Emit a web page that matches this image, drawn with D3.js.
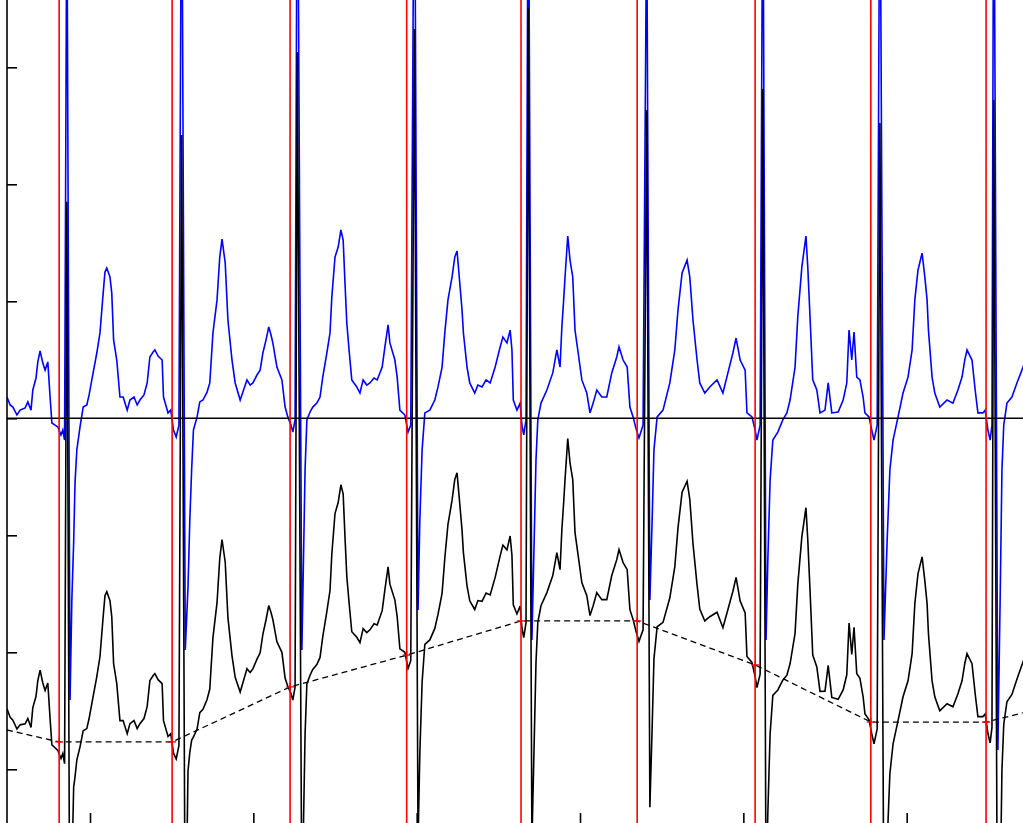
<!DOCTYPE html>
<html>
<head>
<meta charset="utf-8">
<script src="https://cdn.jsdelivr.net/npm/d3@7"></script>
<style>
html,body{margin:0;padding:0;background:#fff;overflow:hidden}
svg{display:block}
</style>
</head>
<body>
<svg id="chart" width="1023" height="823"></svg>
<script>
// ECG strip, 360 Hz samples, mV
let sampleIdx=[
177,184,190,199,206,217,223,230,234,241,
245,250,256,261,267,272,276,283,289,296,
300,304,309,316,320,324,327,331,338,345,
353,358,364,375,382,389,393,397,404,408,
412,419,426,433,442,448,457,464,470,479,
486,492,499,503,510,519,522,532,538,544,
550,556,562,570,576,580,584,588,596,602,
609,618,624,631,640,646,651,658,664,673,
680,691,697,706,713,719,728,735,741,748,
754,759,763,772,783,790,796,803,807,812,
817,827,834,838,845,851,860,867,873,882,
889,893,900,907,913,918,922,926,931,937,
948,955,962,970,977,986,993,1004,1010,1017,
1021,1032,1037,1043,1054,1061,1067,1075,1083,1087,
1092,1098,1109,1120,1127,1136,1142,1149,1158,1164,
1169,1175,1180,1183,1191,1197,1208,1215,1224,1233,
1242,1253,1264,1270,1279,1286,1290,1293,1301,1308,
1312,1316,1321,1326,1334,1339,1343,1347,1354,1367,
1380,1389,1396,1400,1404,1407,1413,1418,1424,1429,
1436,1444,1455,1462,1469,1477,1488,1499,1510,1521,
1526,1535,1544,1550,1557,1563,1570,1579,1587,1594,
1599,1603,1610,1623,1638,1649,1656,1665,1676,1682,
1689,1698,1704,1715,1726,1742,1755,1766,1777,1784,
1793,1804,1808,1819,1826,1830,1837,1843,1850,1854,
1859,1865,1876,1887,1896,1903,1914,1920,1929,1938,
1942,1947,1953,1962,1969,1980,1987,1995,2009,2020,
2028,2033,2039,2044,2050,2057,2064,2068,2077,2083,
2088,2095,2101,2110,2117,2123,2130,2141,2152,2163,
2172,2178,2185,2194,2200,2205,2208,2216,2222,2233,
2249,2262,2273,2282,2288,2293,2304,2311,2317,2328,
2333,2339,2344,2348,2352,2361,2366,2370,2374,2381,
2392,2403,2414,2421]

// baseline-corrected signal (blue)
let ecgFiltered=[
0.091,0.057,0.048,0.014,0.035,0.044,0.070,0.035,0.121,0.172,
0.241,0.288,0.236,0.206,0.241,0.091,-0.020,-0.029,-0.037,-0.071,
-0.050,-0.093,2.308,-1.204,-0.776,-0.529,-0.276,-0.135,-0.037,0.048,
0.057,0.100,0.164,0.279,0.365,0.535,0.625,0.642,0.604,0.535,
0.335,0.249,0.091,0.091,0.035,0.078,0.091,0.057,0.078,0.100,
0.151,0.262,0.283,0.292,0.266,0.249,0.091,0.023,0.035,-0.050,
-0.080,-0.029,2.575,-0.990,-0.721,-0.435,-0.221,-0.050,0.006,0.070,
0.078,0.112,0.151,0.365,0.506,0.689,0.766,0.664,0.420,0.249,
0.151,0.078,0.112,0.164,0.142,0.151,0.185,0.206,0.279,0.335,
0.390,0.356,0.322,0.219,0.164,0.048,0.006,-0.029,-0.059,-0.007,
2.704,-0.990,-0.221,-0.007,0.027,0.048,0.065,0.091,0.176,0.279,
0.365,0.518,0.689,0.732,0.805,0.762,0.578,0.407,0.292,0.164,
0.134,0.108,0.164,0.142,0.151,0.172,0.164,0.219,0.305,0.399,
0.322,0.249,0.176,0.035,0.014,-0.059,-0.029,2.666,-0.819,-0.435,
-0.135,0.023,0.035,0.078,0.134,0.219,0.365,0.506,0.604,0.689,
0.715,0.578,0.463,0.365,0.219,0.151,0.108,0.142,0.134,0.164,
0.151,0.219,0.305,0.347,0.322,0.377,0.292,0.078,0.035,0.065,
-0.029,-0.071,-0.007,2.620,-0.947,-0.520,-0.178,-0.007,0.065,0.121,
0.194,0.292,0.219,0.390,0.506,0.604,0.779,0.676,0.604,0.377,
0.279,0.164,0.108,0.023,0.065,0.121,0.091,0.091,0.194,0.262,
0.305,0.249,0.219,0.048,0.006,-0.041,-0.084,-0.029,2.199,-0.776,
-0.435,-0.135,0.006,0.035,0.151,0.292,0.463,0.621,0.676,0.604,
0.420,0.249,0.151,0.108,0.134,0.164,0.108,0.194,0.279,0.343,
0.249,0.206,0.023,0.006,-0.050,-0.093,-0.029,2.477,-0.947,-0.606,
-0.264,-0.093,-0.059,-0.007,0.023,0.078,0.219,0.433,0.647,0.779,
0.647,0.433,0.164,0.121,0.023,0.035,0.151,0.023,0.027,0.078,
0.151,0.377,0.249,0.369,0.176,0.164,0.091,0.023,0.006,-0.050,
-0.093,-0.029,2.560,-0.947,-0.520,-0.221,-0.093,0.006,0.108,0.176,
0.292,0.506,0.634,0.706,0.604,0.506,0.377,0.176,0.108,0.048,
0.078,0.065,0.121,0.176,0.249,0.292,0.249,0.121,0.023,0.023,
0.035,-0.050,-0.093,-0.029,2.650,-1.418,-0.776,-0.221,-0.029,0.065,
0.091,0.151,0.206,0.241]

// raw signal with baseline wander (black)
let ecgRaw=[
-1.241,-1.278,-1.290,-1.328,-1.310,-1.306,-1.283,-1.321,-1.236,-1.188,
-1.121,-1.076,-1.131,-1.163,-1.131,-1.283,-1.396,-1.408,-1.419,-1.454,
-1.433,-1.476,0.925,-2.587,-1.930,-1.576,-1.532,-1.460,-1.404,-1.335,
-1.326,-1.283,-1.219,-1.104,-1.018,-0.848,-0.758,-0.741,-0.779,-0.848,
-1.048,-1.134,-1.292,-1.292,-1.348,-1.305,-1.292,-1.326,-1.305,-1.283,
-1.232,-1.121,-1.100,-1.091,-1.117,-1.134,-1.292,-1.360,-1.348,-1.431,
-1.456,-1.399,1.211,-2.347,-1.507,-1.428,-1.376,-1.362,-1.328,-1.258,
-1.244,-1.202,-1.157,-0.937,-0.788,-0.599,-0.518,-0.614,-0.852,-1.015,
-1.107,-1.170,-1.130,-1.070,-1.086,-1.071,-1.029,-1.002,-0.923,-0.861,
-0.800,-0.830,-0.860,-0.955,-1.000,-1.110,-1.146,-1.176,-1.204,-1.149,
1.565,-2.124,-1.352,-1.135,-1.098,-1.073,-1.052,-1.022,-0.934,-0.826,
-0.736,-0.581,-0.407,-0.360,-0.284,-0.324,-0.506,-0.675,-0.787,-0.912,
-0.936,-0.959,-0.899,-0.916,-0.904,-0.878,-0.883,-0.822,-0.732,-0.635,
-0.709,-0.777,-0.847,-0.985,-1.000,-1.069,-1.036,1.664,-1.817,-1.430,
-1.127,-0.966,-0.947,-0.898,-0.838,-0.748,-0.598,-0.453,-0.350,-0.261,
-0.233,-0.366,-0.478,-0.574,-0.716,-0.780,-0.817,-0.779,-0.782,-0.747,
-0.755,-0.680,-0.588,-0.542,-0.562,-0.503,-0.585,-0.797,-0.836,-0.802,
-0.895,-0.937,-0.873,1.754,-1.813,-1.386,-1.044,-0.873,-0.801,-0.745,
-0.672,-0.574,-0.647,-0.476,-0.360,-0.262,-0.087,-0.190,-0.262,-0.489,
-0.587,-0.702,-0.758,-0.843,-0.801,-0.745,-0.775,-0.775,-0.672,-0.604,
-0.561,-0.617,-0.647,-0.818,-0.860,-0.907,-0.953,-0.904,1.318,-1.662,
-1.324,-1.028,-0.891,-0.872,-0.767,-0.634,-0.468,-0.316,-0.269,-0.346,
-0.535,-0.712,-0.815,-0.866,-0.848,-0.829,-0.895,-0.817,-0.739,-0.680,
-0.781,-0.832,-1.018,-1.043,-1.104,-1.151,-1.093,1.407,-2.024,-1.687,
-1.349,-1.184,-1.161,-1.119,-1.098,-1.049,-0.919,-0.711,-0.506,-0.382,
-0.518,-0.736,-1.012,-1.063,-1.167,-1.166,-1.056,-1.193,-1.201,-1.161,
-1.096,-0.875,-1.009,-0.893,-1.092,-1.111,-1.190,-1.262,-1.288,-1.348,
-1.391,-1.327,1.262,-2.245,-1.818,-1.519,-1.391,-1.292,-1.190,-1.122,
-1.006,-0.792,-0.664,-0.592,-0.694,-0.792,-0.921,-1.122,-1.190,-1.250,
-1.220,-1.233,-1.177,-1.122,-1.049,-1.006,-1.049,-1.177,-1.275,-1.275,
-1.263,-1.346,-1.387,-1.321,1.360,-2.704,-2.059,-1.502,-1.308,-1.211,
-1.180,-1.115,-1.054,-1.016]

// estimated baseline (knots at QRS onsets, plus strip edges)
let baseSamples=[177,292,541,801,1058,1310,1566,1826,2081,2335,2416]
let baseValues=[-1.332,-1.383,-1.383,-1.148,-1.012,-0.866,-0.866,-1.054,-1.298,-1.298,-1.259]
let qrsOnsets=[292,541,801,1058,1310,1566,1826,2081,2335]

let xTicks=[360,720,1080,1440,1800,2160]
let yTicks=[-1.5,-1,-0.5,0,0.5,1,1.5]

let W=1023,H=823,left=7
let svg=d3.select("#chart")

let x=d3.scaleLinear().domain([360,2160]).range([90,906.67])
let y=d3.scaleLinear().domain([-1.5,1.5]).range([769.3,67.3])

svg.append("rect").attr("width",W).attr("height",H).attr("fill","#fff")

svg.append("clipPath").attr("id","clip")
.append("rect").attr("x",left).attr("y",0).attr("width",W-left).attr("height",H)

let plot=svg.append("g").attr("clip-path","url(#clip)")

let line=d3.line().x(d=>x(d[0])).y(d=>y(d[1]))

let filt=sampleIdx.map((s,i)=>[s,ecgFiltered[i]])
let raw=sampleIdx.map((s,i)=>[s,ecgRaw[i]])
let base=baseSamples.map((s,i)=>[s,baseValues[i]])

plot.append("path").datum(filt)
.attr("d",line).attr("fill","none")
.attr("stroke","#0000ff").attr("stroke-width",1.6)

plot.append("path").datum(raw)
.attr("d",line).attr("fill","none")
.attr("stroke","#000").attr("stroke-width",1.6)

plot.append("path").datum(base)
.attr("d",line).attr("fill","none")
.attr("stroke","#000").attr("stroke-width",1.3)
.attr("stroke-dasharray","6,4")

// zero line
plot.append("line")
.attr("x1",left).attr("x2",W)
.attr("y1",y(0)).attr("y2",y(0))
.attr("stroke","#000").attr("stroke-width",1.6)

// QRS onset markers
plot.selectAll(".qrs").data(qrsOnsets).enter()
.append("line").attr("class","qrs")
.attr("x1",d=>x(d)).attr("x2",d=>x(d))
.attr("y1",0).attr("y2",H)
.attr("stroke","#ff0000").attr("stroke-width",1.6)

let knots=qrsOnsets.map(s=>[s,baseValues[baseSamples.indexOf(s)]])
let plus=plot.selectAll(".knot").data(knots).enter().append("g").attr("class","knot")
.attr("transform",d=>"translate("+x(d[0])+","+y(d[1])+")")
plus.append("line").attr("x1",-4).attr("x2",4).attr("y1",0).attr("y2",0)
.attr("stroke","#ff0000").attr("stroke-width",1.3)
plus.append("line").attr("x1",0).attr("x2",0).attr("y1",-4).attr("y2",4)
.attr("stroke","#ff0000").attr("stroke-width",1.3)

// axes
svg.append("line")
.attr("x1",left).attr("x2",left).attr("y1",0).attr("y2",H)
.attr("stroke","#000").attr("stroke-width",1.6)

svg.append("g")
.attr("transform","translate("+left+",0)")
.call(d3.axisLeft(y).tickValues(yTicks).tickSize(-10).tickFormat(""))
.call(g=>g.select(".domain").remove())
.call(g=>g.selectAll("line").attr("stroke-width",1.6))

svg.append("g")
.attr("transform","translate(0,"+(H+1)+")")
.call(d3.axisBottom(x).tickValues(xTicks).tickSize(-11).tickFormat(""))
.call(g=>g.select(".domain").remove())
.call(g=>g.selectAll("line").attr("stroke-width",1.6))
</script>
</body>
</html>
